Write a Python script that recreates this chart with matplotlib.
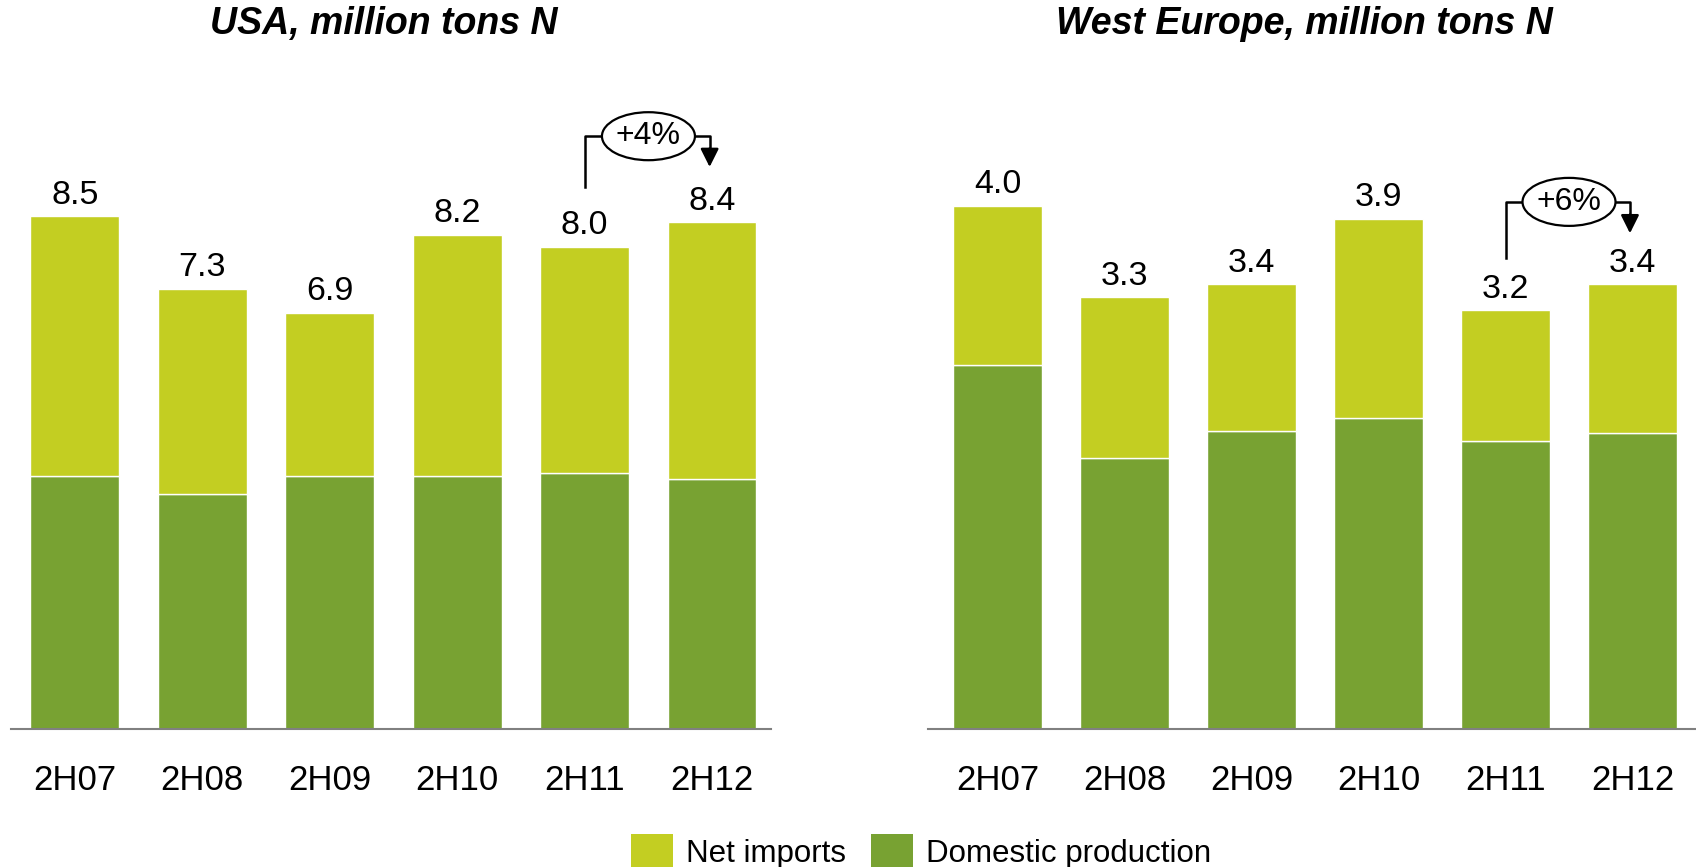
import matplotlib
matplotlib.use('Agg')
import matplotlib.pyplot as plt
from matplotlib.patches import Patch, Ellipse
from matplotlib.transforms import ScaledTranslation

plt.rcParams['font.family'] = ['Liberation Sans', 'DejaVu Sans']

periods = ['2H07', '2H08', '2H09', '2H10', '2H11', '2H12']

# USA, million tons N
usa_total = [8.5, 7.3, 6.9, 8.2, 8.0, 8.4]
usa_domestic = [4.2, 3.9, 4.2, 4.2, 4.25, 4.15]

# West Europe, million tons N
we_total = [4.0, 3.3, 3.4, 3.9, 3.2, 3.4]
we_domestic = [2.78, 2.07, 2.28, 2.38, 2.2, 2.26]

titles = ['USA, million tons N', 'West Europe, million tons N']
growth = ['+4%', '+6%']

c_imp = '#C3CE22'
c_dom = '#78A232'

fig = plt.figure(figsize=(16.96, 8.67), dpi=100)
ax1 = fig.add_axes([0.0065, 0.159, 0.448, 0.75])
ax2 = fig.add_axes([0.547, 0.159, 0.453, 0.75])


def draw(ax, total, dom, title, pct, ymax, xlim, br_low, br_mid, tip):
    x = list(range(len(periods)))
    imp = [t - d for t, d in zip(total, dom)]
    ax.bar(x, dom, width=0.695, color=c_dom, edgecolor='white', linewidth=1)
    ax.bar(x, imp, bottom=dom, width=0.695, color=c_imp, edgecolor='white', linewidth=1)
    for i, t in enumerate(total):
        ax.annotate(f'{t:.1f}', (i, t), xytext=(0, 9), textcoords='offset points',
                    ha='center', va='baseline', fontsize=24.5)
    ax.set_xlim(*xlim)
    ax.set_ylim(0, ymax)
    ax.set_xticks(x)
    ax.set_xticklabels(periods, fontsize=25)
    ax.tick_params(axis='x', length=0, pad=25)
    ax.set_yticks([])
    for s in ['top', 'right', 'left']:
        ax.spines[s].set_visible(False)
    ax.spines['bottom'].set_color('#808080')
    ax.spines['bottom'].set_linewidth(1.5)
    ax.set_title(title, fontsize=27, fontweight='bold', style='italic', pad=0,
                 x=0.49, y=(867 - 24) / 867 / 0.75 - 0.159 / 0.75, va='center')

    # growth bracket from 2H11 to 2H12
    a, b = 4, 5
    xm = (a + b) / 2
    bx = b - 0.02
    ax.plot([a, a, xm], [br_low, br_mid, br_mid], color='black', lw=1.8)
    ax.plot([xm, bx, bx], [br_mid, br_mid, tip + (br_mid - tip) * 0.4],
            color='black', lw=1.8)
    ax.annotate('', xy=(bx, tip), xytext=(bx, tip + (br_mid - tip) * 0.6),
                arrowprops=dict(arrowstyle='-|>,head_length=1.1,head_width=0.55',
                                mutation_scale=10, color='black', lw=1.8,
                                shrinkA=0, shrinkB=0))
    ell = Ellipse((0, 0), width=0.93, height=0.48, fc='white', ec='black', lw=1.6,
                  transform=fig.dpi_scale_trans + ScaledTranslation(xm, br_mid, ax.transData),
                  zorder=3)
    ax.add_patch(ell)
    ax.text(xm, br_mid, pct, ha='center', va='center', fontsize=23, zorder=4)


draw(ax1, usa_total, usa_domestic, titles[0], growth[0], 10.78, (-0.5, 5.46),
     8.99, 9.83, 9.32)
draw(ax2, we_total, we_domestic, titles[1], growth[1], 4.97, (-0.55, 5.5),
     3.60, 4.03, 3.79)

handles = [Patch(facecolor=c_imp, edgecolor='none', label='Net imports'),
           Patch(facecolor=c_dom, edgecolor='none', label='Domestic production')]
fig.legend(handles=handles, loc='center', bbox_to_anchor=(0.543, 0.018), ncol=2,
           frameon=False, fontsize=22.5, handlelength=1.35, handleheight=1.35,
           handletextpad=0.42, columnspacing=0.8, borderaxespad=0, borderpad=0)

fig.savefig('out.png', dpi=100)
